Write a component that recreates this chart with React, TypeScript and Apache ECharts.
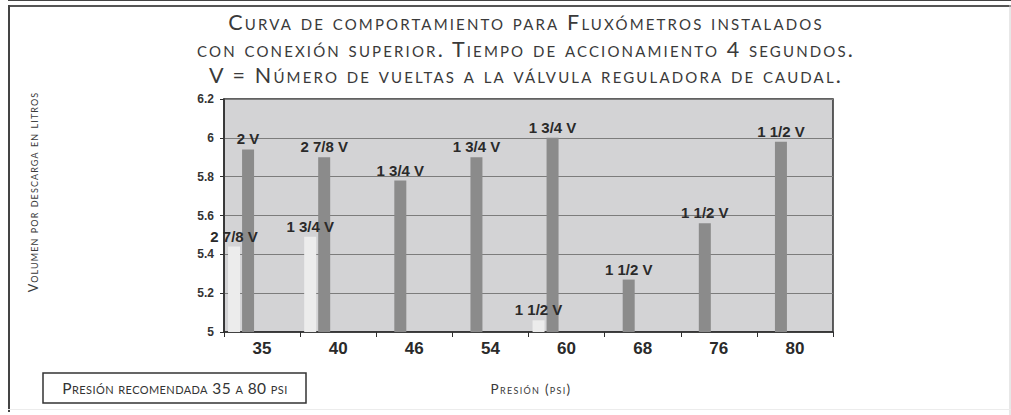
import React, { useEffect, useRef } from "react";
import * as echarts from "echarts";

const categories = ["35", "40", "46", "54", "60", "68", "76", "80"];
const darkValues = [5.94, 5.9, 5.78, 5.9, 6.0, 5.27, 5.56, 5.98];
const darkLabels = ["2 V", "2 7/8 V", "1 3/4 V", "1 3/4 V", "1 3/4 V", "1 1/2 V", "1 1/2 V", "1 1/2 V"];
const lightValues: (number | null)[] = [5.44, 5.49, null, null, 5.06, null, null, null];
const lightLabels = ["2 7/8 V", "1 3/4 V", "", "", "1 1/2 V", "", "", ""];
const placeholderValues: (number | null)[] = [null, null, null, null, null, null, null, null];

const titleLines = [
  "Curva de comportamiento para Fluxómetros instalados",
  "con conexión superior. Tiempo de accionamiento 4 segundos.",
  "V = Número de vueltas a la válvula reguladora de caudal.",
];
const yAxisName = "Volumen por descarga en litros";
const xAxisName = "Presión (psi)";
const boxText = "Presión recomendada 35 a 80 psi";

const SC_FONT = "Lato, 'Open Sans', sans-serif";

const css = `
.sc-chart text[style*="Lato"] { font-variant-caps: small-caps !important; }
.sc-chart text[style*="21.5px"] { letter-spacing: 2.15px; }
.sc-chart text[style*="12.5px"] { letter-spacing: 1.1px; }
.sc-chart text[style*="15.5px"] { letter-spacing: 0.4px; }
.sc-chart text[style*="13.5px"] { letter-spacing: 1.3px; }
`;

export default function App() {
  const ref = useRef<HTMLDivElement>(null);
  useEffect(() => {
    if (!ref.current) return;
    const chart = echarts.init(ref.current, null, { renderer: "svg" });
    const labelStyle = {
      show: true,
      position: "top" as const,
      distance: 3,
      color: "#2a2a2a",
      fontWeight: "bold" as const,
      fontSize: 15,
      fontFamily: "'Liberation Sans', Arial, sans-serif",
    };
    const titleY = [22, 48.5, 75];
    chart.setOption({
      animation: false,
      backgroundColor: "#ffffff",
      grid: {
        left: 224,
        top: 99,
        width: 609,
        height: 233,
        show: true,
        backgroundColor: "#d3d3d5",
        borderColor: "#2e2e2e",
        borderWidth: 1.5,
      },
      xAxis: {
        type: "category",
        data: categories,
        boundaryGap: true,
        axisLine: { show: true, lineStyle: { color: "#2e2e2e", width: 1.5 } },
        axisTick: { show: true, alignWithLabel: false, length: 5, lineStyle: { color: "#2e2e2e" } },
        axisLabel: {
          color: "#2a2a2a",
          fontWeight: "bold",
          fontSize: 17,
          margin: 8,
          fontFamily: "'Liberation Sans', Arial, sans-serif",
        },
        splitLine: { show: false },
      },
      yAxis: {
        type: "value",
        min: 5,
        max: 6.2,
        interval: 0.2,
        axisLine: { show: true, lineStyle: { color: "#2e2e2e", width: 1.5 } },
        axisTick: { show: true, length: 4, lineStyle: { color: "#2e2e2e" } },
        axisLabel: {
          color: "#333",
          fontWeight: "bold",
          fontSize: 12,
          margin: 10,
          fontFamily: "'Liberation Sans', Arial, sans-serif",
        },
        splitLine: { show: true, lineStyle: { color: "#7c7c7c", width: 1 } },
      },
      series: [
        {
          type: "bar",
          name: "light",
          data: lightValues,
          barWidth: 12,
          barGap: "16.7%",
          itemStyle: { color: "#ececec" },
          label: { ...labelStyle, formatter: (p: any) => lightLabels[p.dataIndex] },
        },
        {
          type: "bar",
          name: "dark",
          data: darkValues,
          barWidth: 12,
          barGap: "16.7%",
          itemStyle: { color: "#8b8b8b" },
          label: { ...labelStyle, formatter: (p: any) => darkLabels[p.dataIndex] },
        },
        {
          type: "bar",
          name: "spacer",
          data: placeholderValues,
          barWidth: 40,
          barGap: "16.7%",
          itemStyle: { color: "transparent" },
          silent: true,
        },
      ],
      graphic: [
        { type: "line", shape: { x1: 8, y1: 0.5, x2: 1011, y2: 0.5 }, style: { stroke: "#444", lineWidth: 1 } },
        { type: "line", shape: { x1: 8, y1: 6, x2: 1011, y2: 6 }, style: { stroke: "#555", lineWidth: 2 } },
        { type: "line", shape: { x1: 9, y1: 5, x2: 9, y2: 412 }, style: { stroke: "#444", lineWidth: 2 } },
        { type: "line", shape: { x1: 1010, y1: 5, x2: 1010, y2: 415 }, style: { stroke: "#d0d0d0", lineWidth: 1 } },
        { type: "line", shape: { x1: 8, y1: 409.5, x2: 1011, y2: 409.5 }, style: { stroke: "#ececec", lineWidth: 1 } },
        ...titleLines.map((t, i) => ({
          type: "text",
          x: 526,
          y: titleY[i],
          style: {
            text: t,
            fontFamily: SC_FONT,
            fontSize: 21.5,
            fill: "#3a3a3a",
            align: "center",
            verticalAlign: "middle",
          },
        })),
        {
          type: "text",
          x: 33,
          y: 192,
          rotation: Math.PI / 2,
          style: {
            text: yAxisName,
            fontFamily: SC_FONT,
            fontSize: 12.5,
            fill: "#3a3a3a",
            align: "center",
            verticalAlign: "middle",
          },
        },
        {
          type: "rect",
          shape: { x: 43, y: 373, width: 263, height: 30 },
          style: { fill: "#ffffff", stroke: "#333", lineWidth: 1.5 },
        },
        {
          type: "text",
          x: 175,
          y: 388,
          style: {
            text: boxText,
            fontFamily: SC_FONT,
            fontSize: 15.5,
            fill: "#333",
            align: "center",
            verticalAlign: "middle",
          },
        },
        {
          type: "text",
          x: 531,
          y: 389,
          style: {
            text: xAxisName,
            fontFamily: SC_FONT,
            fontSize: 13.5,
            fill: "#3a3a3a",
            align: "center",
            verticalAlign: "middle",
          },
        },
      ],
    });
    return () => chart.dispose();
  }, []);
  return (
    <>
      <style>{css}</style>
      <div
        ref={ref}
        className="sc-chart"
        style={{ position: "fixed", left: 0, top: 0, width: 1011, height: 415 }}
      />
    </>
  );
}
